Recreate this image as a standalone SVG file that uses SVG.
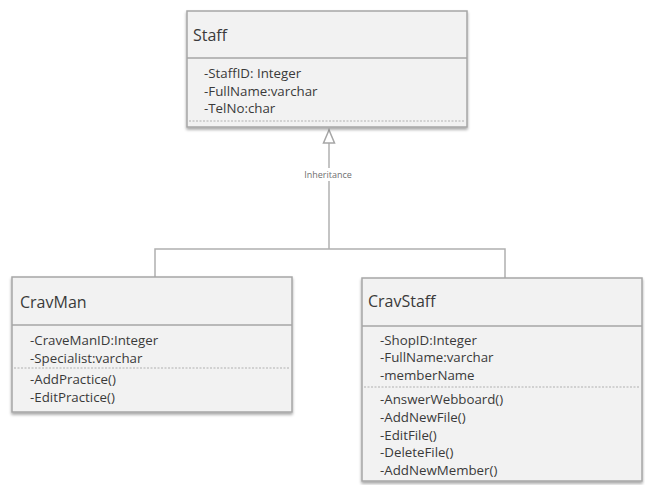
<svg xmlns="http://www.w3.org/2000/svg" width="645" height="485" viewBox="0 0 645 485">
<defs>
<filter id="sh" x="-5%" y="-5%" width="110%" height="115%">
<feGaussianBlur in="SourceAlpha" stdDeviation="1.5"/>
<feOffset dx="0" dy="2" result="b"/>
<feComponentTransfer><feFuncA type="linear" slope="0.35"/></feComponentTransfer>
<feMerge><feMergeNode/><feMergeNode in="SourceGraphic"/></feMerge>
</filter>
</defs>
<style>
.box{fill:#f2f2f2;stroke:#a6a6a6;stroke-width:1.5}
.sep{stroke:#a6a6a6;stroke-width:1.5}
.dash{stroke:#b0b0b0;stroke-width:1;stroke-dasharray:2 1.5}
.t{font-family:"Open Sans","Noto Sans",sans-serif;fill:#3a3a3a}
.h{font-size:16px}
.a{font-size:13.3px}
.conn{stroke:#b0b0b0;stroke-width:1.5;fill:none}
.lbl{font-family:"Open Sans","Noto Sans",sans-serif;font-size:9px;fill:#707070}
</style>
<g id="connectors">
<polyline class="conn" points="155,277 155,249 505,249 505,278"/>
<line class="conn" x1="329" y1="249" x2="329" y2="143"/>
<polygon points="329,130 323.5,143 334.5,143" fill="#ffffff" stroke="#a6a6a6" stroke-width="1.5"/>
<rect x="298" y="168" width="60" height="13" fill="#ffffff"/>
<text class="lbl" x="328" y="178" text-anchor="middle">Inheritance</text>
</g>
<g id="staff">
<rect class="box" x="187" y="11" width="280" height="116" filter="url(#sh)"/>
<line class="sep" x1="187" y1="58" x2="467" y2="58"/>
<line class="dash" x1="189" y1="121" x2="465" y2="121"/>
<text class="t h" x="193" y="41">Staff</text>
<text class="t a" x="204" y="78">-StaffID: Integer</text>
<text class="t a" x="204" y="96">-FullName:varchar</text>
<text class="t a" x="204" y="113">-TelNo:char</text>
</g>
<g id="cravman">
<rect class="box" x="12" y="277" width="280" height="135" filter="url(#sh)"/>
<line class="sep" x1="12" y1="325" x2="292" y2="325"/>
<line class="dash" x1="14" y1="368" x2="290" y2="368"/>
<text class="t h" x="20" y="308">CravMan</text>
<text class="t a" x="30" y="345">-CraveManID:Integer</text>
<text class="t a" x="30" y="363">-Specialist:varchar</text>
<text class="t a" x="30" y="384">-AddPractice()</text>
<text class="t a" x="30" y="402">-EditPractice()</text>
</g>
<g id="cravstaff">
<rect class="box" x="362" y="278" width="280" height="203" filter="url(#sh)"/>
<line class="sep" x1="362" y1="326" x2="642" y2="326"/>
<line class="dash" x1="364" y1="387" x2="640" y2="387"/>
<text class="t h" x="368" y="307">CravStaff</text>
<text class="t a" x="380" y="345">-ShopID:Integer</text>
<text class="t a" x="380" y="362">-FullName:varchar</text>
<text class="t a" x="380" y="380">-memberName</text>
<text class="t a" x="380" y="404">-AnswerWebboard()</text>
<text class="t a" x="380" y="422">-AddNewFile()</text>
<text class="t a" x="380" y="440">-EditFile()</text>
<text class="t a" x="380" y="457">-DeleteFile()</text>
<text class="t a" x="380" y="475">-AddNewMember()</text>
</g>
</svg>
